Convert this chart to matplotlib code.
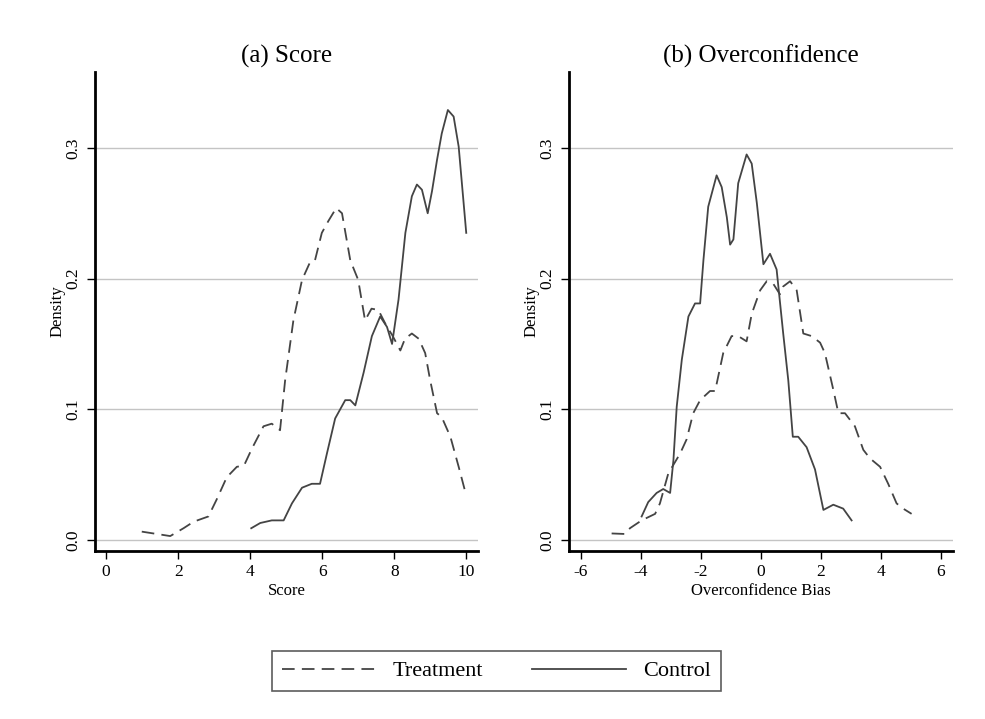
import numpy as np
import matplotlib.pyplot as plt
from matplotlib.lines import Line2D

plt.rcParams['font.family'] = ['Liberation Serif', 'DejaVu Serif']
plt.rcParams['axes.unicode_minus'] = False

# === Panel (a): Score densities ===
score_treat_x = [0.99, 1.78, 2.15, 2.43, 2.84, 3.07, 3.35, 3.63, 3.83, 4.05, 4.37, 4.6, 4.83,
                 4.97, 5.2, 5.44, 5.67, 5.8, 5.99, 6.17, 6.39, 6.55, 6.78, 7.0, 7.19, 7.37,
                 7.56, 7.8, 7.94, 8.17, 8.3, 8.49, 8.68, 8.86, 9.0, 9.19, 9.32, 9.56, 9.79, 10.0]
score_treat_y = [0.0064, 0.003, 0.009, 0.014, 0.018, 0.031, 0.048, 0.056, 0.057, 0.070, 0.087,
                 0.089, 0.084, 0.122, 0.168, 0.199, 0.213, 0.214, 0.235, 0.244, 0.254, 0.25,
                 0.214, 0.199, 0.168, 0.177, 0.176, 0.163, 0.157, 0.145, 0.154, 0.158, 0.154,
                 0.143, 0.122, 0.097, 0.094, 0.079, 0.056, 0.034]
score_ctrl_x = [4.03, 4.28, 4.6, 4.93, 5.16, 5.44, 5.71, 5.94, 6.13, 6.36, 6.64, 6.78, 6.92,
                7.15, 7.38, 7.61, 7.8, 7.94, 8.12, 8.31, 8.49, 8.63, 8.77, 8.93, 9.05, 9.19,
                9.32, 9.49, 9.65, 9.79, 10.0]
score_ctrl_y = [0.009, 0.013, 0.015, 0.015, 0.028, 0.040, 0.043, 0.043, 0.066, 0.093, 0.107,
                0.107, 0.103, 0.128, 0.156, 0.171, 0.163, 0.150, 0.184, 0.235, 0.263, 0.272,
                0.268, 0.25, 0.267, 0.291, 0.311, 0.329, 0.324, 0.301, 0.235]

# === Panel (b): Overconfidence bias densities ===
over_treat_x = [-4.98, -4.53, -4.37, -3.98, -3.53, -3.37, -3.09, -2.7, -2.48, -2.26, -2.03,
                -1.7, -1.53, -1.26, -0.98, -0.76, -0.48, -0.31, -0.03, 0.19, 0.41, 0.63, 0.74,
                0.97, 1.19, 1.41, 1.69, 1.97, 2.13, 2.41, 2.58, 2.8, 3.13, 3.41, 3.63, 3.97,
                4.24, 4.52, 4.74, 5.02]
over_treat_y = [0.005, 0.0046, 0.009, 0.015, 0.020, 0.028, 0.051, 0.066, 0.077, 0.097, 0.107,
                0.114, 0.114, 0.143, 0.156, 0.156, 0.152, 0.173, 0.191, 0.198, 0.196, 0.188,
                0.194, 0.198, 0.191, 0.158, 0.156, 0.151, 0.143, 0.115, 0.097, 0.097, 0.087,
                0.069, 0.0625, 0.056, 0.043, 0.028, 0.024, 0.020]
over_ctrl_x = [-3.98, -3.76, -3.48, -3.26, -3.03, -2.92, -2.81, -2.64, -2.42, -2.2, -2.03,
               -1.92, -1.76, -1.48, -1.31, -1.14, -1.03, -0.92, -0.76, -0.48, -0.31, -0.14,
               0.08, 0.3, 0.52, 0.74, 0.91, 1.06, 1.24, 1.52, 1.8, 2.08, 2.41, 2.74, 3.02]
over_ctrl_y = [0.018, 0.029, 0.036, 0.039, 0.036, 0.061, 0.102, 0.138, 0.171, 0.181, 0.181,
               0.214, 0.255, 0.279, 0.27, 0.247, 0.226, 0.23, 0.273, 0.295, 0.288, 0.258,
               0.211, 0.219, 0.207, 0.158, 0.122, 0.079, 0.079, 0.071, 0.054, 0.023, 0.027,
               0.024, 0.015]

y_ticks = [0.0, 0.1, 0.2, 0.3]
line_col = '#444444'

fig = plt.figure(figsize=(9.85, 7.19), dpi=100)
ax_a = fig.add_axes([0.0964, 0.2337, 0.389, 0.666])
ax_b = fig.add_axes([0.5777, 0.2337, 0.3898, 0.666])

panels = [
    (ax_a, "(a) Score", "Score", score_treat_x, score_treat_y, score_ctrl_x, score_ctrl_y,
     (-0.31, 10.33), [0, 2, 4, 6, 8, 10]),
    (ax_b, "(b) Overconfidence", "Overconfidence Bias", over_treat_x, over_treat_y,
     over_ctrl_x, over_ctrl_y, (-6.4, 6.4), [-6, -4, -2, 0, 2, 4, 6]),
]

for ax, title, xlabel, tx, ty, cx, cy, xlim, xticks in panels:
    for yv in y_ticks:
        ax.axhline(yv, color='#c4c4c4', lw=1.0, zorder=0)
    ax.plot(tx, ty, color=line_col, lw=1.3, ls=(0, (7, 4)))
    ax.plot(cx, cy, color=line_col, lw=1.3)
    ax.set_xlim(*xlim)
    ax.set_ylim(-0.0084, 0.358)
    ax.set_xticks(xticks)
    ax.set_yticks(y_ticks)
    ax.set_yticklabels([f"{v:.1f}" for v in y_ticks], rotation=90, va='center')
    ax.tick_params(direction='out', length=6, width=1, labelsize=12.5, colors='black')
    ax.spines['top'].set_visible(False)
    ax.spines['right'].set_visible(False)
    ax.spines['left'].set_linewidth(2)
    ax.spines['bottom'].set_linewidth(2)
    ax.set_title(title, fontsize=18, pad=7)
    ax.set_xlabel(xlabel, fontsize=12, labelpad=2)
    ax.set_ylabel("Density", fontsize=12, labelpad=0)

# legend below both panels
handles = [Line2D([], [], color=line_col, lw=1.3, ls=(0, (7, 4))),
           Line2D([], [], color=line_col, lw=1.3)]
leg = fig.legend(handles, ["Treatment", "Control"], loc='center', bbox_to_anchor=(0.504, 0.0665),
                 ncol=2, fontsize=16, frameon=True, fancybox=False, handlelength=4.2,
                 columnspacing=2.2, handletextpad=0.8, borderpad=0.45)
leg.get_frame().set_edgecolor('#333333')
leg.get_frame().set_linewidth(1.2)

fig.savefig("out.png", dpi=100)
